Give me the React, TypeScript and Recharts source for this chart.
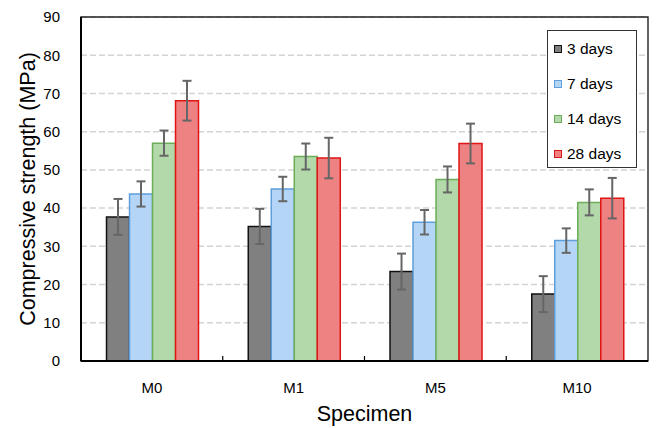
import React from 'react';
import {
  BarChart,
  Bar,
  XAxis,
  YAxis,
  CartesianGrid,
  ErrorBar,
  ReferenceArea,
  Legend,
  Label,
} from 'recharts';

const specimens = ['M0', 'M1', 'M5', 'M10'];
const days3 = [37.7, 35.2, 23.4, 17.5];
const days7 = [43.7, 45.0, 36.3, 31.5];
const days14 = [57.0, 53.5, 47.5, 41.5];
const days28 = [68.1, 53.1, 56.9, 42.6];
const err3 = [4.7, 4.6, 4.7, 4.7];
const err7 = [3.3, 3.2, 3.2, 3.2];
const err14 = [3.3, 3.4, 3.4, 3.4];
const err28 = [5.2, 5.3, 5.2, 5.3];
const seriesNames = ['3 days', '7 days', '14 days', '28 days'];
const yTicks = [0, 10, 20, 30, 40, 50, 60, 70, 80, 90];
const Y_MAX = 90;

const fills = ['#808080', '#b4d5f6', '#b3d8a9', '#ee8181'];
const strokes = ['#111111', '#5e9fdc', '#6cae58', '#e01515'];

const data = specimens.map((s, i) => ({
  name: s,
  d3: days3[i],
  d7: days7[i],
  d14: days14[i],
  d28: days28[i],
  e3: err3[i],
  e7: err7[i],
  e14: err14[i],
  e28: err28[i],
}));

const keys = [
  ['d3', 'e3'],
  ['d7', 'e7'],
  ['d14', 'e14'],
  ['d28', 'e28'],
];

const FONT = '"Liberation Sans", Arial, Helvetica, sans-serif';

const CHART_W = 656;
const CHART_H = 428;
const MARGIN = { top: 17, right: 8, bottom: 0, left: 0 };
const X_AXIS_H = 67;
const Y_AXIS_W = 81;
const PLOT_H = CHART_H - MARGIN.top - MARGIN.bottom - X_AXIS_H;
const PLOT_W = CHART_W - MARGIN.left - MARGIN.right - Y_AXIS_W;
const BAND_W = PLOT_W / specimens.length;
const TICK_PX = 5;
const TICK_VAL = (TICK_PX / PLOT_H) * Y_MAX;

const renderLegend = () => (
  <div
    style={{
      width: 90,
      height: 138,
      boxSizing: 'border-box',
      border: '1.5px solid #333',
      background: '#fff',
      fontFamily: FONT,
      fontSize: 15.5,
      color: '#000',
    }}
  >
    {seriesNames.map((n, i) => (
      <div
        key={n}
        style={{ display: 'flex', alignItems: 'center', height: 35 }}
      >
        <span
          style={{
            display: 'inline-block',
            width: 8,
            height: 8,
            boxSizing: 'border-box',
            background: fills[i],
            border: `1.2px solid ${strokes[i]}`,
            marginLeft: 6,
            marginRight: 5,
          }}
        />
        <span>{n}</span>
      </div>
    ))}
  </div>
);

export default function App() {
  return (
    <div style={{ position: 'absolute', left: 0, top: 0, background: '#fff' }}>
      <BarChart
        width={CHART_W}
        height={CHART_H}
        data={data}
        margin={MARGIN}
        barCategoryGap="18%"
        barGap={0}
        style={{ fontFamily: FONT }}
      >
        <CartesianGrid
          vertical={false}
          stroke="#d4d4d4"
          strokeWidth={1.5}
          strokeDasharray="6 3"
        />
        <XAxis
          dataKey="name"
          height={X_AXIS_H}
          tickLine={false}
          tickSize={6}
          tickMargin={15}
          axisLine={{ stroke: '#000', strokeWidth: 2 }}
          tick={{ fill: '#000', fontSize: 15, fontFamily: FONT }}
        >
          <Label
            value="Specimen"
            position="center"
            dy={19}
            style={{ fill: '#000', fontSize: 21.5, fontFamily: FONT }}
          />
        </XAxis>
        <YAxis
          width={Y_AXIS_W}
          domain={[0, Y_MAX]}
          ticks={yTicks}
          interval={0}
          tickLine={false}
          tickSize={6}
          tickMargin={15}
          axisLine={{ stroke: '#000', strokeWidth: 2 }}
          tick={{ fill: '#000', fontSize: 15, fontFamily: FONT }}
        >
          <Label
            value="Compressive strength (MPa)"
            angle={-90}
            position="center"
            dx={-13}
            style={{ fill: '#000', fontSize: 21.5, fontFamily: FONT }}
          />
        </YAxis>
        <ReferenceArea
          x1={specimens[0]}
          x2={specimens[specimens.length - 1]}
          y1={0}
          y2={Y_MAX}
          fill="none"
          fillOpacity={0}
          stroke="#222"
          strokeWidth={1.4}
          ifOverflow="visible"
        />
        {specimens.slice(0, -1).map((s) => (
          <ReferenceArea
            key={`tick-${s}`}
            x1={s}
            x2={s}
            y1={0}
            y2={TICK_VAL}
            fill="none"
            fillOpacity={0}
            stroke="#000"
            strokeWidth={1.2}
            strokeDasharray={`0 ${BAND_W} ${TICK_PX} ${BAND_W + TICK_PX + 20}`}
            ifOverflow="visible"
          />
        ))}
        {keys.map(([k, e], i) => (
          <Bar
            key={k}
            dataKey={k}
            name={seriesNames[i]}
            fill={fills[i]}
            stroke={strokes[i]}
            strokeWidth={1.5}
            isAnimationActive={false}
          >
            <ErrorBar
              dataKey={e}
              direction="y"
              width={4.5}
              stroke="#666"
              strokeWidth={2}
              isAnimationActive={false}
            />
          </Bar>
        ))}
        <Legend
          layout="horizontal"
          verticalAlign="middle"
          align="center"
          content={renderLegend}
          wrapperStyle={{ left: 547, top: 30, width: 90, height: 138 }}
        />
      </BarChart>
    </div>
  );
}
